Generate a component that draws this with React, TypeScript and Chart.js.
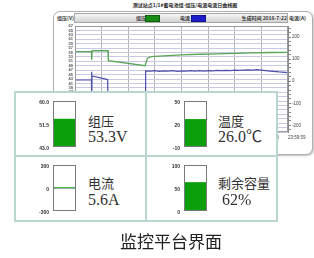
import React, { useEffect, useRef } from 'react';
import { Chart, registerables } from 'chart.js';

Chart.register(...registerables);

// ---------- background history chart data ----------
const CHART_TITLE = '测试站点1/1#蓄电池组-组压/电流电流日曲线图';
const SERIES_NAMES = ['组压', '电流'];
const SERIES_LINE_COLORS = ['#58a558', '#4e4eab'];
const SERIES_LEGEND_COLORS = ['#178c17', '#1d1dcc'];
const LEFT_AXIS_TITLE = '组压(V)';
const RIGHT_AXIS_TITLE = '电流(A)';
const DATE_TEXT = '生成时间 2016-7-22';

const VOLT_TIME = [0, 1.85, 1.88, 1.92, 3.72, 3.76, 7.9, 8.15, 8.6, 10, 12, 14, 16, 18, 20, 22, 24];
const VOLT_VALUES = [55.4, 55.4, 51.6, 55.8, 55.8, 51.3, 49.0, 52.4, 53.1, 53.5, 53.9, 54.2, 54.4, 54.6, 54.8, 55.0, 55.1];

const CURR_TIME = [0, 1.86, 1.87, 1.89, 1.92, 3.6, 3.68, 3.72, 7.92, 7.96, 8.5, 9, 9.5, 10, 10.5, 11, 11.5, 12, 12.5, 13, 13.5, 14, 14.5, 15, 15.5, 16, 16.5, 17, 17.5, 18, 18.5, 19, 19.5, 20, 20.5, 21, 22, 23, 24];
const CURR_VALUES = [5.5, 5.5, 43, -100, 24, 8.6, 8, -120, -120, 47, 46, 48, 45, 47, 46, 48, 45, 47, 46, 48, 46, 48, 46, 48, 47, 49, 48, 49, 48, 50, 49, 50, 51, 50, 52, 50, 46, 42, 39];

const LEFT_TICKS = [19, 21, 23, 25, 27, 29, 31, 33, 35, 37, 39, 41, 43, 45, 47, 49, 51, 53, 55, 57, 59, 61, 63, 65, 67];
const RIGHT_TICKS = [-220, -200, -180, -160, -140, -120, -100, -80, -60, -40, -20, 0, 20, 40, 60, 80, 100, 120, 140, 160, 180, 200, 220, 240];
const X_TICKS = [0, 3, 6, 9, 12, 15, 18, 21, 24];
const X_TICK_LABELS = ['0:00:00', '3:00:00', '6:00:00', '9:00:00', '12:00:00', '15:00:00', '18:00:00', '21:00:00', '23:59:59'];

// ---------- gauge data ----------
const GAUGE_NAMES = ['组压', '温度', '电流', '剩余容量'];
const GAUGE_VALUES = [53.3, 26.0, 5.6, 62];
const GAUGE_BASE = [43, -10, 0, 0];
const GAUGE_MIN = [43, -10, -300, 0];
const GAUGE_MAX = [60, 50, 300, 100];
const GAUGE_UNITS = ['V', '℃', 'A', '%'];
const GAUGE_VALUE_DECIMALS = [1, 1, 1, 0];
const GAUGE_TICK_DECIMALS = [1, 0, 0, 0];

const CAPTION = '监控平台界面';

const GAUGE_GREEN = '#0b9f0b';

const boxPlugin = {
  id: 'box',
  afterDraw(chart: any, _args: any, opts: any) {
    const { ctx, chartArea: a } = chart;
    ctx.save();
    ctx.strokeStyle = opts.color || '#777';
    ctx.lineWidth = 1;
    ctx.strokeRect(Math.round(a.left) + 0.5, Math.round(a.top) + 0.5, Math.round(a.right - a.left) - 1, Math.round(a.bottom - a.top) - 1);
    ctx.restore();
  },
};

function HistoryChart() {
  const ref = useRef<HTMLCanvasElement>(null);
  useEffect(() => {
    const chart = new Chart(ref.current as HTMLCanvasElement, {
      type: 'line',
      data: {
        datasets: [
          {
            label: SERIES_NAMES[0],
            data: VOLT_TIME.map((t, i) => ({ x: t, y: VOLT_VALUES[i] })),
            borderColor: SERIES_LINE_COLORS[0],
            borderWidth: 1.3,
            pointRadius: 0,
            yAxisID: 'y',
          },
          {
            label: SERIES_NAMES[1],
            data: CURR_TIME.map((t, i) => ({ x: t, y: CURR_VALUES[i] })),
            borderColor: SERIES_LINE_COLORS[1],
            borderWidth: 1.2,
            pointRadius: 0,
            yAxisID: 'y1',
          },
        ],
      },
      plugins: [boxPlugin],
      options: {
        responsive: false,
        animation: false,
        layout: { padding: { top: 14, left: 0, right: 0, bottom: 0 } },
        plugins: {
          legend: { display: false },
          tooltip: { enabled: false },
          box: { color: '#9a9a9a' },
        } as any,
        scales: {
          x: {
            type: 'linear',
            min: 0,
            max: 24,
            afterBuildTicks: (a: any) => { a.ticks = X_TICKS.map((v) => ({ value: v })); },
            afterFit: (s: any) => { s.height = 22; },
            ticks: {
              autoSkip: false,
              maxRotation: 0,
              align: 'start',
              padding: 3,
              color: '#444',
              font: { size: 4.5, family: 'Arial, "Liberation Sans"' },
              callback: (_v: any, i: number) => X_TICK_LABELS[i],
            },
            grid: { color: '#b4b4b4', drawTicks: false },
            border: { display: false },
          },
          y: {
            position: 'left',
            min: 19,
            max: 67,
            afterBuildTicks: (a: any) => { a.ticks = LEFT_TICKS.map((v) => ({ value: v })); },
            afterFit: (s: any) => { s.width = 21; },
            ticks: {
              autoSkip: false,
              padding: 2,
              color: '#555',
              font: { size: 4, weight: 'bold', family: 'Arial, "Liberation Sans"' },
            },
            grid: { color: '#c9c9e3', drawTicks: false },
            border: { display: false },
          },
          y1: {
            position: 'right',
            min: -230,
            max: 250,
            afterBuildTicks: (a: any) => { a.ticks = RIGHT_TICKS.map((v) => ({ value: v })); },
            afterFit: (s: any) => { s.width = 24; },
            ticks: {
              autoSkip: false,
              padding: 1,
              color: '#444',
              font: { size: 4.5, family: 'Arial, "Liberation Sans"' },
              callback: (v: any) => (Number(v) % 100 === 0 ? String(v) : ''),
            },
            grid: { drawOnChartArea: false, drawTicks: true, tickLength: 3, color: '#888' },
            border: { display: true, color: '#888' },
          },
        },
      } as any,
    });
    return () => chart.destroy();
  }, []);
  return <canvas ref={ref} width={258} height={142} style={{ position: 'absolute', left: 54, top: 12 }} />;
}

function Gauge({ idx, left, top }: { idx: number; left: number; top: number }) {
  const ref = useRef<HTMLCanvasElement>(null);
  useEffect(() => {
    const min = GAUGE_MIN[idx];
    const max = GAUGE_MAX[idx];
    const base = GAUGE_BASE[idx];
    const ticks = [min, (min + max) / 2, max];
    const chart = new Chart(ref.current as HTMLCanvasElement, {
      type: 'bar',
      data: {
        labels: [GAUGE_NAMES[idx]],
        datasets: [
          {
            data: [[base, GAUGE_VALUES[idx]]],
            backgroundColor: GAUGE_GREEN,
            borderWidth: 0,
            barPercentage: 1,
            categoryPercentage: 1,
          },
        ],
      } as any,
      plugins: [boxPlugin],
      options: {
        responsive: false,
        animation: false,
        layout: { padding: { top: 3, right: 3, bottom: 4, left: 0 } },
        plugins: {
          legend: { display: false },
          tooltip: { enabled: false },
          box: { color: '#7a7a7a' },
        } as any,
        scales: {
          x: { display: false },
          y: {
            min,
            max,
            afterBuildTicks: (a: any) => { a.ticks = ticks.map((v) => ({ value: v })); },
            afterFit: (s: any) => { s.width = 33; },
            ticks: {
              autoSkip: false,
              padding: 4,
              labelOffset: 2,
              color: '#333',
              font: { size: 5, weight: 'bold', family: 'Arial, "Liberation Sans"' },
              callback: (v: any) => Number(v).toFixed(GAUGE_TICK_DECIMALS[idx]),
            },
            grid: {
              drawTicks: false,
              color: (c: any) => (c.tick && c.tick.value === base && base !== min ? '#93ad9f' : 'rgba(0,0,0,0)'),
            },
            border: { display: false },
          },
        },
      } as any,
    });
    return () => chart.destroy();
  }, [idx]);
  return <canvas ref={ref} width={59} height={60} style={{ position: 'absolute', left, top }} />;
}

const tiny: React.CSSProperties = {
  position: 'absolute',
  fontSize: 5,
  lineHeight: '6px',
  fontWeight: 'bold',
  color: '#333',
  fontFamily: '"Noto Sans CJK SC", Arial, sans-serif',
  whiteSpace: 'nowrap',
};

const GAUGE_SPOTS = [
  { canvasLeft: 20, canvasTop: 94, textLeft: 88, nameTop: 113, valueTop: 128 },
  { canvasLeft: 151, canvasTop: 94, textLeft: 218, nameTop: 113, valueTop: 128 },
  { canvasLeft: 20, canvasTop: 158, textLeft: 88, nameTop: 175, valueTop: 191 },
  { canvasLeft: 151, canvasTop: 158, textLeft: 218, nameTop: 175, valueTop: 191 },
];

export default function App() {
  const border = '#b9d7d0';
  return (
    <div style={{ position: 'fixed', left: 0, top: 0, width: 314, height: 258, background: '#fff', overflow: 'hidden' }}>
      {/* screen frame */}
      <div
        style={{
          position: 'absolute', left: 53, top: 11, width: 260, height: 144, boxSizing: 'border-box',
          border: '1px solid #b0b0b0', borderRadius: 7, background: '#fff', boxShadow: '1px 1px 2px rgba(0,0,0,0.25)',
        }}
      />
      <div style={{ ...tiny, left: 120, top: 2, width: 130, textAlign: 'center', color: '#222' }}>{CHART_TITLE}</div>
      <div
        style={{
          position: 'absolute', left: 74, top: 13, width: 214, height: 10, boxSizing: 'border-box',
          border: '1px solid #a8a8a8', background: 'linear-gradient(#f7f7f7, #d2d2d2)',
        }}
      />
      <div style={{ ...tiny, left: 57, top: 15 }}>{LEFT_AXIS_TITLE}</div>
      <div style={{ ...tiny, left: 136, top: 15 }}>{SERIES_NAMES[0]}</div>
      <div style={{ position: 'absolute', left: 145, top: 14.5, width: 15, height: 7, boxSizing: 'border-box', background: SERIES_LEGEND_COLORS[0], border: '1px solid #0e600e' }} />
      <div style={{ ...tiny, left: 180, top: 15 }}>{SERIES_NAMES[1]}</div>
      <div style={{ position: 'absolute', left: 191, top: 14.5, width: 15, height: 7, boxSizing: 'border-box', background: SERIES_LEGEND_COLORS[1], border: '1px solid #10108a' }} />
      <div style={{ ...tiny, left: 240, top: 15, width: 47, textAlign: 'right' }}>{DATE_TEXT}</div>
      <div style={{ ...tiny, left: 289, top: 15 }}>{RIGHT_AXIS_TITLE}</div>
      <HistoryChart />

      {/* gauge panels */}
      <div style={{ position: 'absolute', left: 14, top: 91, width: 264, height: 131, background: border }} />
      <div style={{ position: 'absolute', left: 16, top: 93, width: 129, height: 62, background: '#fff' }} />
      <div style={{ position: 'absolute', left: 147, top: 93, width: 129, height: 62, background: '#fff' }} />
      <div style={{ position: 'absolute', left: 16, top: 157, width: 129, height: 63, background: '#fff' }} />
      <div style={{ position: 'absolute', left: 147, top: 157, width: 129, height: 63, background: '#fff' }} />
      {GAUGE_SPOTS.map((s, i) => (
        <React.Fragment key={i}>
          <Gauge idx={i} left={s.canvasLeft} top={s.canvasTop} />
          <div
            style={{
              position: 'absolute', left: s.textLeft, top: s.nameTop, fontSize: 13, lineHeight: '16px',
              fontFamily: '"Noto Sans CJK SC", sans-serif', color: '#333', whiteSpace: 'nowrap',
            }}
          >
            {GAUGE_NAMES[i]}
          </div>
          <div
            style={{
              position: 'absolute', left: s.textLeft, top: s.valueTop, fontSize: 16, lineHeight: '18px',
              fontFamily: '"Liberation Serif", "Noto Sans CJK SC", serif', color: '#333', whiteSpace: 'pre',
            }}
          >
            {(GAUGE_UNITS[i] === '%' ? ' ' : '') + GAUGE_VALUES[i].toFixed(GAUGE_VALUE_DECIMALS[i]) + GAUGE_UNITS[i]}
          </div>
        </React.Fragment>
      ))}

      <div
        style={{
          position: 'absolute', left: 120, top: 231, fontSize: 17, lineHeight: '20px',
          fontFamily: '"Noto Sans CJK SC", sans-serif', color: '#222', whiteSpace: 'nowrap',
        }}
      >
        {CAPTION}
      </div>
    </div>
  );
}
